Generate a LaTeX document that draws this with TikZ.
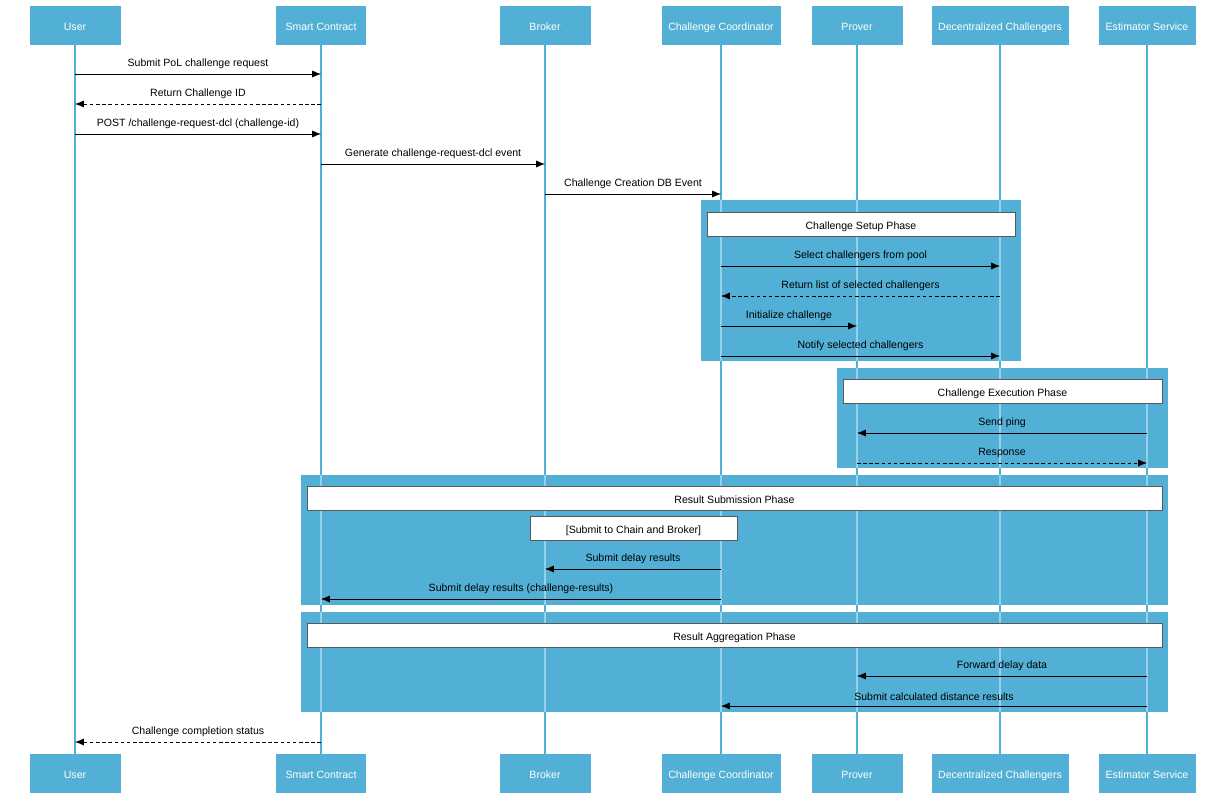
\documentclass[tikz,border=0pt]{standalone}
\usepackage{fontspec}
\setmainfont{Liberation Sans}
\usetikzlibrary{arrows.meta}
\definecolor{seqblue}{RGB}{82,176,214}
\definecolor{seqlight}{RGB}{150,208,232}
\tikzset{>=Latex,
  actor/.style={draw=seqblue,fill=seqblue,text=white,minimum height=0.76cm,inner sep=0pt,
    text height=1.5ex,text depth=0.4ex,font=\fontsize{6}{7}\selectfont},
  msg/.style={->,thin,>={Latex[length=5pt,width=4pt]}},
  reply/.style={msg,dashed,dash pattern=on 2pt off 1.5pt},
  lbl/.style={above=3pt,inner sep=0pt,font=\fontsize{6}{7}\selectfont},
  phase/.style={fill=seqblue,draw=none},
  title/.style={draw=gray!70!black,fill=white,line width=0.4pt,font=\fontsize{6}{7}\selectfont,
    text height=1.5ex,text depth=0.4ex,inner sep=0pt},
  life/.style={seqblue,line width=0.6pt}
}
\newcommand{\lifelines}[1]{%
  \foreach \n in {u,sc,br,cc,pv,dc,es} \draw[#1] (\n.south) -- (\n b.north);}
\begin{document}
\begin{tikzpicture}[x=0.02cm,y=-0.02cm]
\useasboundingbox (0,0) rectangle (1225,800);
% actors
\foreach \n/\x/\w/\t in {u/75/90/User, sc/321/89/Smart Contract, br/545/90/Broker,
  cc/721/118/Challenge Coordinator, pv/857/90/Prover, dc/1000/136/Decentralized Challengers,
  es/1147/96/Estimator Service} {
  \node[actor,minimum width=\w*0.02cm] (\n) at (\x,25) {\t};
  \node[actor,minimum width=\w*0.02cm] (\n b) at (\x,773) {\t};
}
\lifelines{life}
% phases
\fill[phase] (701,200) rectangle (1021,361);
\fill[phase] (837,368) rectangle (1168,468);
\fill[phase] (301,475) rectangle (1168,605);
\fill[phase] (301,612) rectangle (1168,712);
\begin{scope}
  \clip (701,200) rectangle (1021,361) (837,368) rectangle (1168,468)
        (301,475) rectangle (1168,605) (301,612) rectangle (1168,712);
  \lifelines{seqlight,line width=0.6pt}
\end{scope}
\node[title,minimum width=308*0.02cm,minimum height=24*0.02cm] (p1) at (861,224) {Challenge Setup Phase};
\node[title,minimum width=319*0.02cm,minimum height=24*0.02cm] (p2) at (1002.5,391) {Challenge Execution Phase};
\node[title,minimum width=855*0.02cm,minimum height=24*0.02cm] (p3) at (734.5,498) {Result Submission Phase};
\node[title,minimum width=207*0.02cm,minimum height=24*0.02cm] (p3a) at (633.5,528) {[Submit to Chain and Broker]};
\node[title,minimum width=855*0.02cm,minimum height=24*0.02cm] (p4) at (734.5,635) {Result Aggregation Phase};
% messages
\draw[msg] (u |- 0,74) -- node[lbl]{Submit PoL challenge request} (sc |- 0,74);
\draw[reply] (sc |- 0,104) -- node[lbl]{Return Challenge ID} (u |- 0,104);
\draw[msg] (u |- 0,134) -- node[lbl]{POST /challenge-request-dcl (challenge-id)} (sc |- 0,134);
\draw[msg] (sc |- 0,164) -- node[lbl]{Generate challenge-request-dcl event} (br |- 0,164);
\draw[msg] (br |- 0,194) -- node[lbl]{Challenge Creation DB Event} (cc |- 0,194);
\draw[msg] (cc |- 0,266) -- node[lbl]{Select challengers from pool} (dc |- 0,266);
\draw[reply] (dc |- 0,296) -- node[lbl]{Return list of selected challengers} (cc |- 0,296);
\draw[msg] (cc |- 0,326) -- node[lbl]{Initialize challenge} (pv |- 0,326);
\draw[msg] (cc |- 0,356) -- node[lbl]{Notify selected challengers} (dc |- 0,356);
\draw[msg] (es |- 0,433) -- node[lbl]{Send ping} (pv |- 0,433);
\draw[reply] (pv |- 0,463) -- node[lbl]{Response} (es |- 0,463);
\draw[msg] (cc |- 0,569) -- node[lbl]{Submit delay results} (br |- 0,569);
\draw[msg] (cc |- 0,599) -- node[lbl]{Submit delay results (challenge-results)} (sc |- 0,599);
\draw[msg] (es |- 0,676) -- node[lbl]{Forward delay data} (pv |- 0,676);
\draw[msg] (es |- 0,706) -- node[lbl]{Submit calculated distance results} (cc |- 0,706);
\draw[reply] (sc |- 0,742) -- node[lbl]{Challenge completion status} (u |- 0,742);
\end{tikzpicture}
\end{document}
